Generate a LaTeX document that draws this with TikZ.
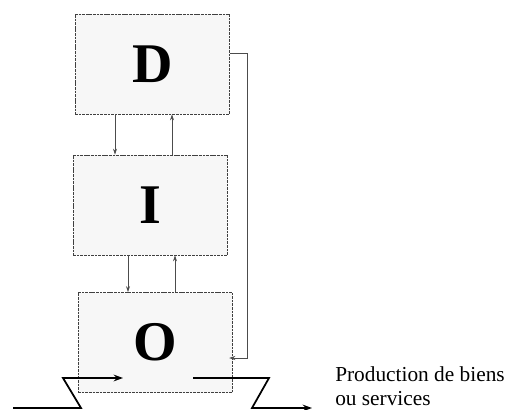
\documentclass[tikz,border=0pt]{standalone}
\usepackage{fontspec}
\setmainfont{Liberation Serif}
\usetikzlibrary{arrows.meta}

\begin{document}
\begin{tikzpicture}[>={Stealth[length=4.5pt,width=3pt]}, x=0.75pt, y=-0.75pt,
    box/.style={draw=black!75, line width=0.6pt, dash pattern=on 2pt off 0.7pt, fill=black!3,
        minimum width=116pt, minimum height=75pt, inner sep=0pt,
        font=\bfseries\fontsize{42}{42}\selectfont},
    link/.style={->, draw=black!70, line width=0.5pt},
    flow/.style={-{Stealth[length=7pt,width=5pt]}, line width=1.3pt}]

    \useasboundingbox (0,0) rectangle (507,410);

    \node[box] (D) at (152.5,64) {D};
    \node[box] (I) at (150.5,205) {I};
    \node[box] (O) at (155.5,342.5) {O};

    % x positions of the links between levels
    \coordinate (dn1) at (115,0);
    \coordinate (up1) at (172,0);
    \coordinate (dn2) at (128,0);
    \coordinate (up2) at (175,0);

    \draw[link] (dn1 |- D.south) to (dn1 |- I.north);
    \draw[link] (up1 |- I.north) to (up1 |- D.south);
    \draw[link] (dn2 |- I.south) to (dn2 |- O.north);
    \draw[link] (up2 |- O.north) to (up2 |- I.south);

    % direct line from D down to O
    \coordinate (fbtop) at (247,53);
    \coordinate (fbbot) at (247,358);
    \draw[link, shorten >=-3pt] (D.east |- fbtop) -- (fbtop) -- (fbbot) -- (O.east |- fbbot);

    % flow through the operating level
    \coordinate (in0) at (13,408);
    \coordinate (in1) at (81,408);
    \coordinate (in2) at (63,378);
    \coordinate (in3) at (123,378);
    \coordinate (out0) at (193,378);
    \coordinate (out1) at (269,378);
    \coordinate (out2) at (252,408);
    \coordinate (out3) at (312,408);

    \draw[flow] (in0) -- (in1) -- (in2) -- (in3);
    \draw[flow] (out0) -- (out1) -- (out2) -- (out3);

    \node[anchor=north west, align=left, inner sep=0pt,
        font=\fontsize{16}{18}\selectfont] (prod) at (335,366) {Production de biens\\ou services};

    ;
\end{tikzpicture}
\end{document}
